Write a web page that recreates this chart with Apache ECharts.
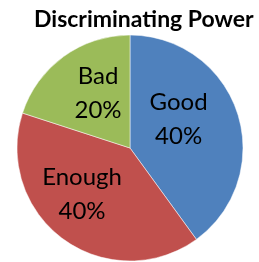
<!DOCTYPE html>
<html>
<head>
<meta charset="utf-8">
<script src="https://cdn.jsdelivr.net/npm/echarts@6/dist/echarts.min.js"></script>
<style>
  html, body { margin: 0; padding: 0; background: #fff; }
  #chart { width: 259px; height: 262px; }
</style>
</head>
<body>
<div id="chart"></div>
<script>
// data
const titleText = 'Discriminating Power'
const categories = ['Good', 'Enough', 'Bad']
const values = [40, 40, 20]
const colors = ['#4F81BD', '#C0504D', '#9BBB59']

const chart = echarts.init(document.getElementById('chart'))

// nudge labels a bit so they sit like the original
const labelShift = [[-8, -10], [-13, -2], [3, -7]]

const option = {
  animation: false,
  title: {
    text: titleText,
    left: 29,
    top: 3,
    textStyle: {
      fontFamily: 'Lato',
      fontWeight: 'bold',
      fontSize: 23,
      color: '#000'
    }
  },
  series: [
    {
      type: 'pie',
      center: [130, 148],
      radius: 113,
      startAngle: 90,
      clockwise: true,
      data: categories.map((name, i) => ({
        name: name,
        value: values[i],
        itemStyle: { color: colors[i] }
      })),
      label: {
        show: true,
        position: 'inside',
        formatter: '{b}\n{d}%',
        fontFamily: 'Lato',
        fontSize: 24,
        lineHeight: 34,
        color: '#000'
      },
      labelLayout: function (params) {
        const s = labelShift[params.dataIndex]
        return { dx: s[0], dy: s[1] }
      },
      labelLine: { show: false },
      itemStyle: {
        borderColor: '#fff',
        borderWidth: 0.5
      }
    }
  ]
}
chart.setOption(option)
</script>
</body>
</html>
